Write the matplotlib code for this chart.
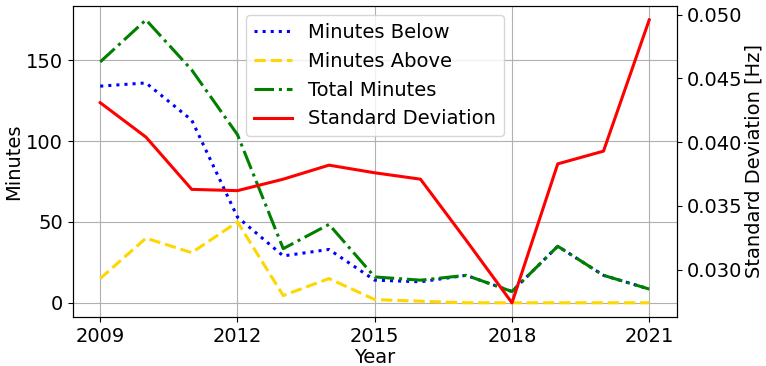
import matplotlib
matplotlib.use("Agg")
import matplotlib.pyplot as plt

years = [2009, 2010, 2011, 2012, 2013, 2014, 2015, 2016, 2017, 2018, 2019, 2020, 2021]
minutes_below = [134, 136, 113, 53, 29, 33, 14, 13, 17, 7, 35, 17, 8.5]
minutes_above = [15, 40, 31, 50, 4.5, 15, 2, 1, 0, 0, 0, 0, 0]
total_minutes = [149, 175, 144, 104, 33.5, 48.5, 16, 14, 17, 7, 35, 17, 8.5]
std_dev = [0.0431, 0.0404, 0.0363, 0.0362, 0.0371, 0.0382, 0.0376, 0.0371, 0.0323,
           0.0274, 0.0383, 0.0393, 0.0496]
xticks = [2009, 2012, 2015, 2018, 2021]

fig = plt.figure(figsize=(7.66, 3.66), dpi=100)
ax1 = fig.add_subplot(111)
fig.subplots_adjust(left=0.095, right=0.8834, top=0.9844, bottom=0.134)

fs = 14
l1, = ax1.plot(years, minutes_below, ':', color='blue', lw=2.2, label='Minutes Below')
l2, = ax1.plot(years, minutes_above, '--', color='gold', lw=2.2, label='Minutes Above')
l3, = ax1.plot(years, total_minutes, '-.', color='green', lw=2.2, label='Total Minutes')
ax1.set_xlabel('Year', fontsize=fs, labelpad=2)
ax1.set_ylabel('Minutes', fontsize=fs, labelpad=2)
ax1.set_xticks(xticks)
ax1.set_yticks([0, 50, 100, 150])
ax1.tick_params(labelsize=fs)
ax1.grid(True)

ax2 = ax1.twinx()
l4, = ax2.plot(years, std_dev, '-', color='red', lw=2.2, label='Standard Deviation')
ax2.set_ylabel('Standard Deviation [Hz]', fontsize=fs, labelpad=2)
ax2.set_yticks([0.030, 0.035, 0.040, 0.045, 0.050])
ax2.tick_params(labelsize=fs)

lines = [l1, l2, l3, l4]
ax2.legend(lines, [l.get_label() for l in lines], loc='upper center', fontsize=fs)

fig.savefig('out.png', dpi=100)
